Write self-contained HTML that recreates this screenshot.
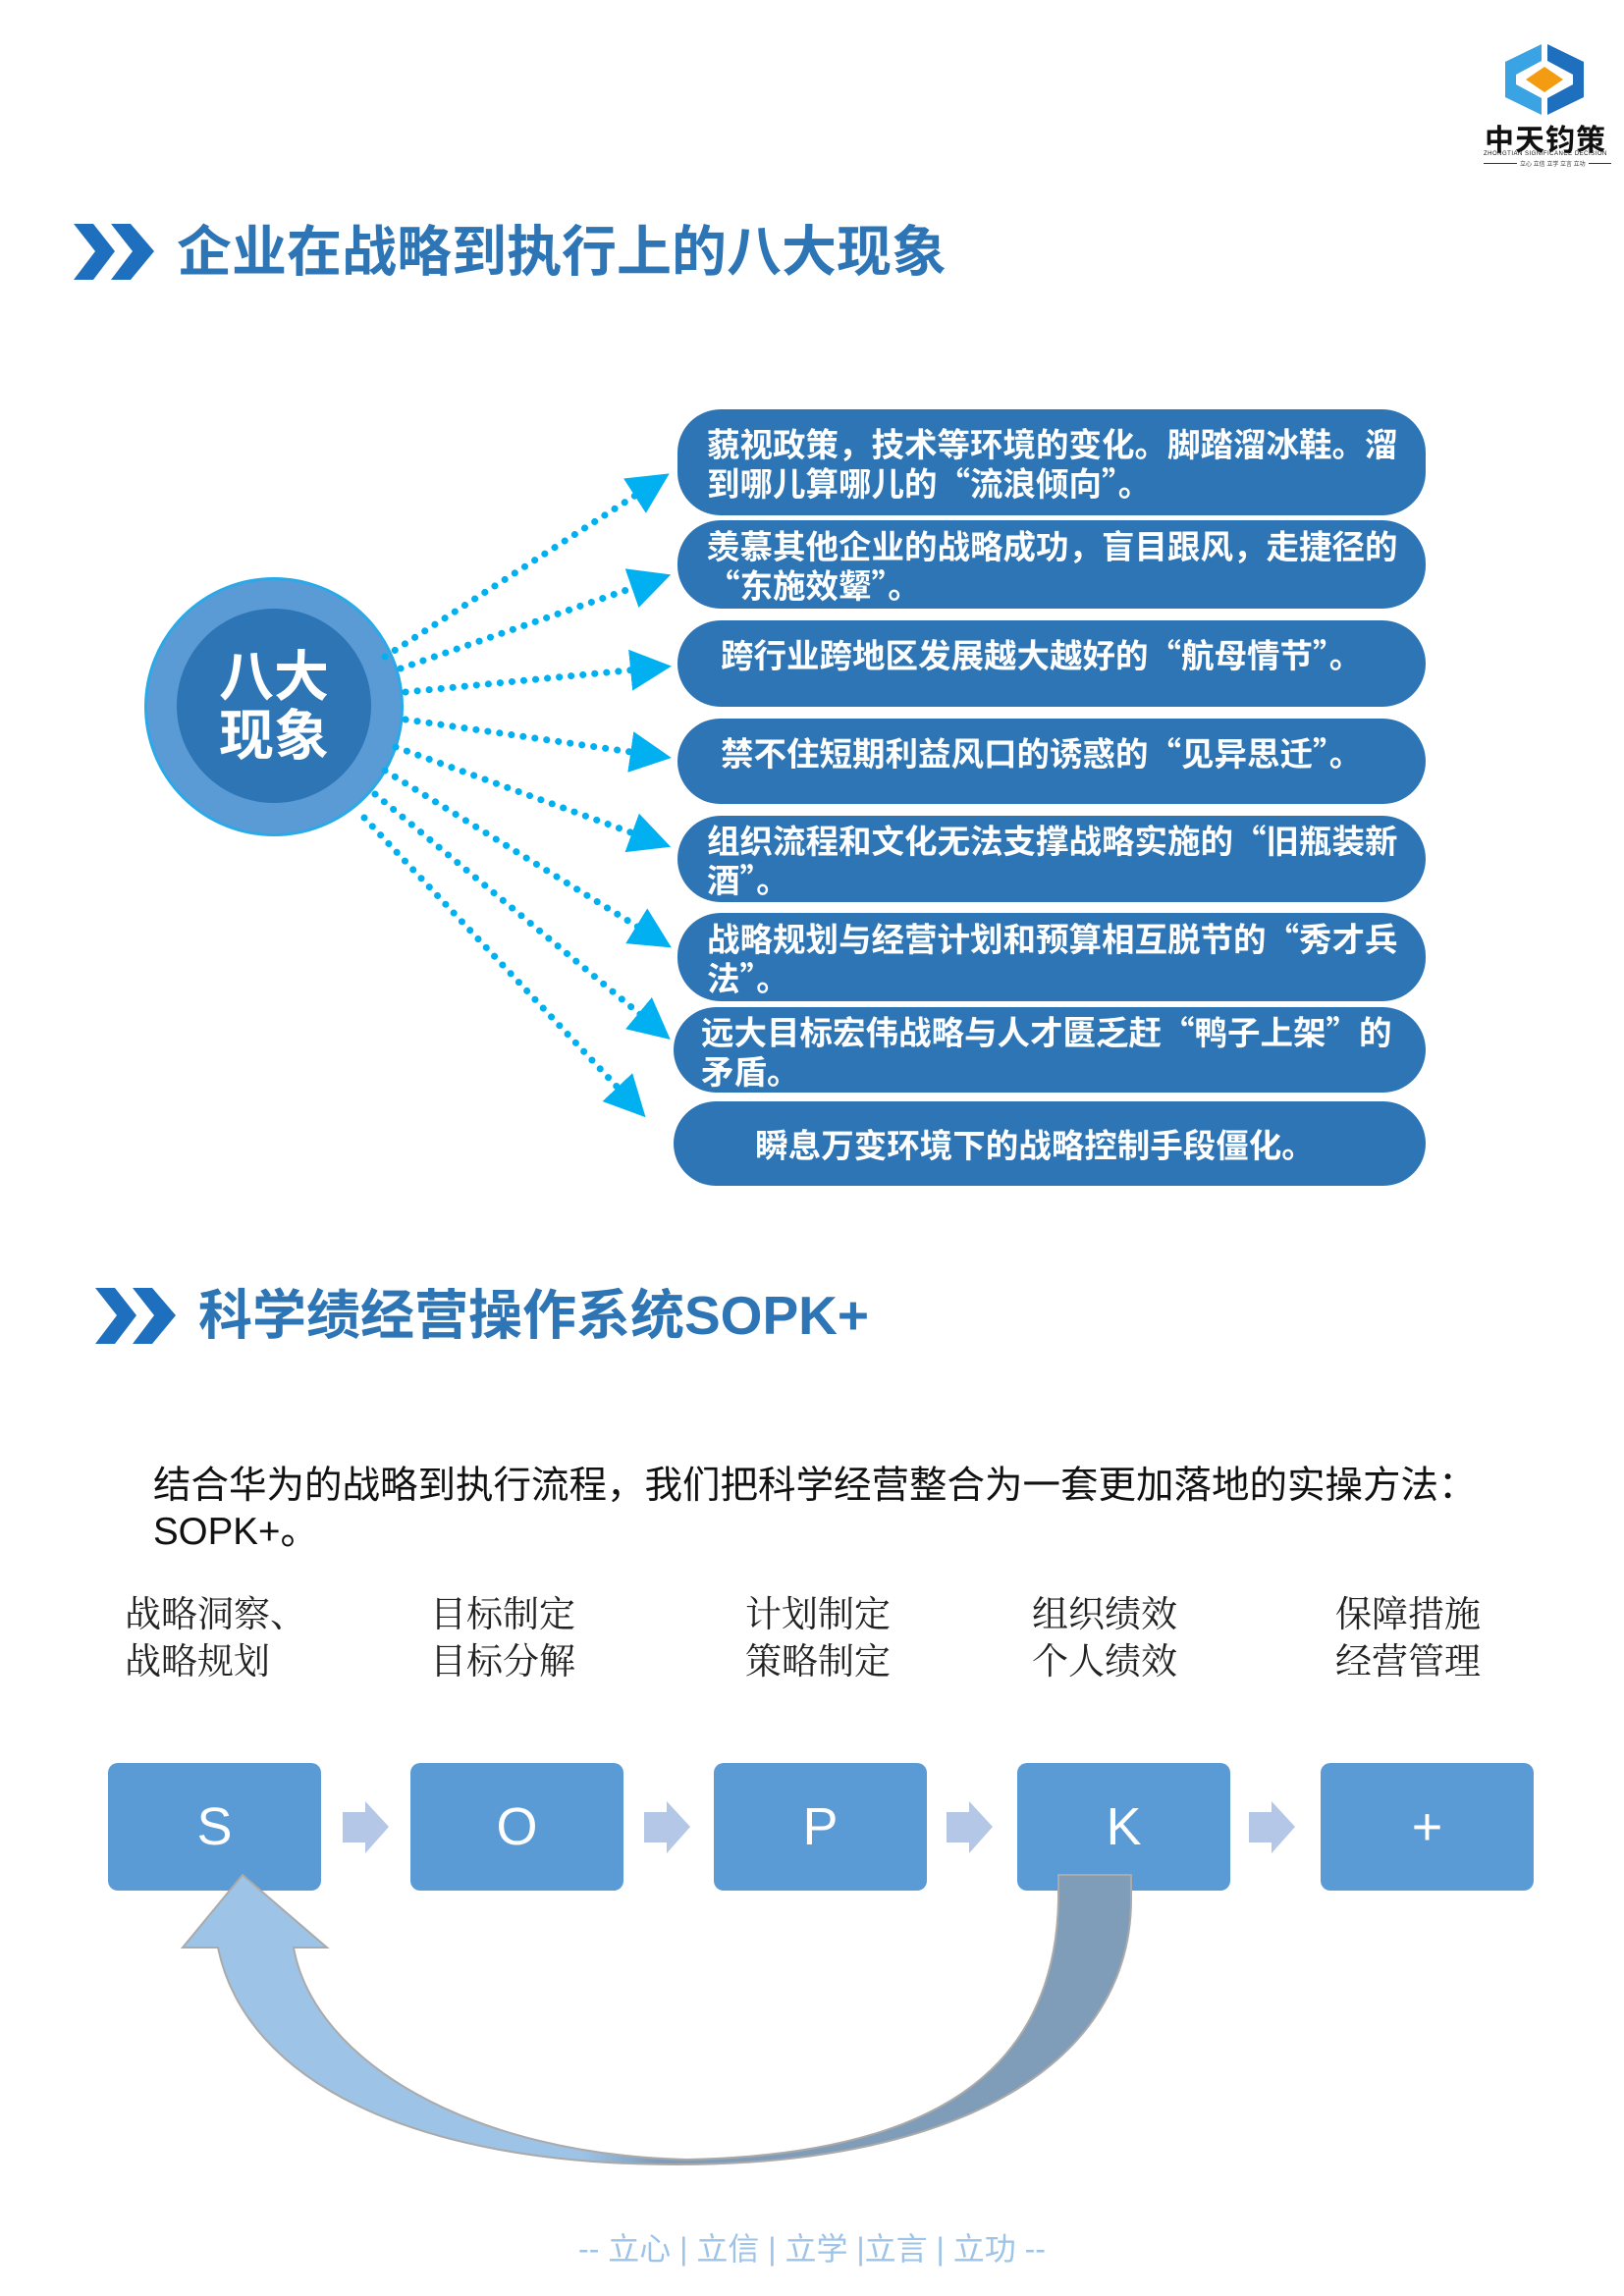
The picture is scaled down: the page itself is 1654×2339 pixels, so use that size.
<!DOCTYPE html>
<html><head><meta charset="utf-8">
<style>
body{margin:0;background:#fff;}
#p{position:relative;width:1654px;height:2339px;overflow:hidden;font-family:"Liberation Sans","Noto Sans CJK SC",sans-serif;}
.a{position:absolute;white-space:nowrap;}
.box{position:absolute;background:#2e75b6;border-radius:44px;color:#fff;font-weight:bold;font-size:33.5px;line-height:40px;box-sizing:border-box;padding-left:30px;padding-right:26px;display:flex;align-items:center;white-space:normal;line-break:anywhere;font-family:"Noto Sans CJK SC",sans-serif;}
.t{color:#2e75b6;font-weight:bold;}
.lbl{position:absolute;font-family:"Liberation Serif","Noto Serif CJK SC",serif;font-size:37px;line-height:48px;color:#222;}
.sq{position:absolute;background:#5b9bd5;border-radius:10px;color:#fff;font-size:54px;display:flex;align-items:center;justify-content:center;width:217px;height:130px;top:1796px;}
</style></head><body><div id="p">
<!-- logo -->
<svg class="a" style="left:1530px;top:42px" width="86" height="78" viewBox="0 0 86 78">
<polygon points="40,3 40,20 14,34 14,44 40,58 40,75 3,57 3,21" fill="#3aa3e3"/>
<polygon points="46,3 46,20 72,34 72,44 46,58 46,75 83,57 83,21" fill="#1f6fbf"/>
<polygon points="43,26 62,39 43,52 24,39" fill="#f39c12"/>
</svg>
<div class="a" style="left:1512px;top:118px;font-size:30px;font-weight:bold;color:#111;letter-spacing:1px;">中天钧策</div>
<div class="a" style="left:1511px;top:154px;font-size:6px;color:#111;letter-spacing:0.5px;">ZHONGTIAN SIGNIFICANCE DECISION</div>
<div class="a" style="left:1511px;top:166px;width:130px;height:1px;background:#333;"></div>
<div class="a" style="left:1545px;top:162px;font-size:6px;color:#333;background:#fff;padding:0 3px;">立心 立信 立学 立言 立功</div>

<!-- title 1 -->
<svg class="a" style="left:75px;top:228px" width="85" height="57"><polygon points="0,0 20,0 42,28 20,57 0,57 22,28" fill="#1f6fbf"/><polygon points="38,0 58,0 82,28 58,57 38,57 60,28" fill="#1f6fbf"/></svg>
<div class="a t" style="left:180px;top:221px;font-size:56px;line-height:72px;">企业在战略到执行上的八大现象</div>

<!-- circle -->
<div class="a" style="left:147px;top:588px;width:258px;height:258px;border-radius:50%;background:#5b9bd5;border:3px solid #29a9e8;"></div>
<div class="a" style="left:180px;top:620px;width:198px;height:198px;border-radius:50%;background:#2e75b6;"></div>
<div class="a" style="left:180px;top:660px;width:198px;text-align:center;color:#fff;font-weight:bold;font-size:56px;line-height:60px;">八大<br>现象</div>

<!-- dotted arrows -->
<svg class="a" style="left:0;top:0" width="1654" height="1300">
<defs><marker id="m" markerWidth="6" markerHeight="6" refX="4" refY="3" orient="auto"><polygon points="0,0 6,3 0,6" fill="#00b0f0"/></marker></defs>
<g stroke="#00b0f0" stroke-width="7" stroke-linecap="round" stroke-dasharray="0.1 12" fill="none" marker-end="url(#m)">
<line x1="392" y1="669" x2="670" y2="490"/>
<line x1="408" y1="681" x2="670" y2="590"/>
<line x1="413" y1="705" x2="670" y2="680"/>
<line x1="413" y1="733" x2="670" y2="770"/>
<line x1="403" y1="761" x2="670" y2="858"/>
<line x1="392" y1="785" x2="672" y2="958"/>
<line x1="382" y1="809" x2="672" y2="1050"/>
<line x1="371" y1="833" x2="648" y2="1128"/>
</g></svg>

<!-- boxes -->
<div class="box" style="left:690px;top:417px;width:762px;height:108px;">藐视政策，技术等环境的变化。脚踏溜冰鞋。溜到哪儿算哪儿的“流浪倾向”。</div>
<div class="box" style="left:690px;top:530px;width:762px;height:90px;">羡慕其他企业的战略成功，盲目跟风，走捷径的“东施效颦”。</div>
<div class="box" style="left:690px;top:632px;width:762px;height:88px;padding-left:44px;padding-bottom:20px;">跨行业跨地区发展越大越好的“航母情节”。</div>
<div class="box" style="left:690px;top:732px;width:762px;height:87px;padding-left:44px;padding-bottom:20px;">禁不住短期利益风口的诱惑的“见异思迁”。</div>
<div class="box" style="left:690px;top:831px;width:762px;height:88px;">组织流程和文化无法支撑战略实施的“旧瓶装新酒”。</div>
<div class="box" style="left:690px;top:930px;width:762px;height:90px;">战略规划与经营计划和预算相互脱节的“秀才兵法”。</div>
<div class="box" style="left:686px;top:1026px;width:766px;height:87px;padding-left:28px;">远大目标宏伟战略与人才匮乏赶“鸭子上架”的矛盾。</div>
<div class="box" style="left:686px;top:1122px;width:766px;height:86px;justify-content:center;padding-left:0;padding-right:30px;">瞬息万变环境下的战略控制手段僵化。</div>

<!-- title 2 -->
<svg class="a" style="left:97px;top:1312px" width="85" height="57"><polygon points="0,0 20,0 42,28 20,57 0,57 22,28" fill="#1f6fbf"/><polygon points="38,0 58,0 82,28 58,57 38,57 60,28" fill="#1f6fbf"/></svg>
<div class="a t" style="left:202px;top:1304px;font-size:55px;line-height:72px;">科学绩经营操作系统SOPK+</div>

<div class="a" style="left:156px;top:1490px;font-size:38.5px;line-height:47px;color:#111;">结合华为的战略到执行流程，我们把科学经营整合为一套更加落地的实操方法：<br>SOPK+。</div>

<div class="lbl" style="left:127px;top:1622px;">战略洞察、<br>战略规划</div>
<div class="lbl" style="left:438px;top:1622px;">目标制定<br>目标分解</div>
<div class="lbl" style="left:759px;top:1622px;">计划制定<br>策略制定</div>
<div class="lbl" style="left:1051px;top:1622px;">组织绩效<br>个人绩效</div>
<div class="lbl" style="left:1360px;top:1622px;">保障措施<br>经营管理</div>

<div class="sq" style="left:110px;">S</div>
<div class="sq" style="left:418px;">O</div>
<div class="sq" style="left:727px;">P</div>
<div class="sq" style="left:1036px;">K</div>
<div class="sq" style="left:1345px;">+</div>
<svg class="a" style="left:0;top:1830px" width="1654" height="64">
<g fill="#b4c7e7">
<polygon points="349,16 372,16 372,5 396,31 372,58 372,47 349,47"/>
<polygon points="656,16 679,16 679,5 703,31 679,58 679,47 656,47"/>
<polygon points="964,16 987,16 987,5 1011,31 987,58 987,47 964,47"/>
<polygon points="1272,16 1295,16 1295,5 1319,31 1295,58 1295,47 1272,47"/>
</g></svg>

<!-- curved arrow (over boxes) -->
<svg class="a" style="left:0;top:0" width="1654" height="2339">
<defs><linearGradient id="g" x1="0" x2="1" y1="0" y2="0"><stop offset="0.42" stop-color="#9dc3e6"/><stop offset="0.5" stop-color="#7f9db9"/><stop offset="1" stop-color="#7f9db9"/></linearGradient></defs>
<path d="M1078,1910 L1078,1935 C1075,2110 950,2195 700,2200 C480,2195 320,2100 299,1984 L333,1984 L247,1910 L186,1984 L222,1984 C250,2120 420,2205 690,2205 C980,2205 1152,2100 1152,1935 L1152,1910 Z" fill="url(#g)" stroke="#aaa" stroke-width="2"/>
</svg>

<div class="a" style="left:0;width:1654px;top:2266px;text-align:center;font-size:32px;color:#9dc3e6;">-- 立心 | 立信 | 立学 |立言 | 立功 --</div>
</div></body></html>
